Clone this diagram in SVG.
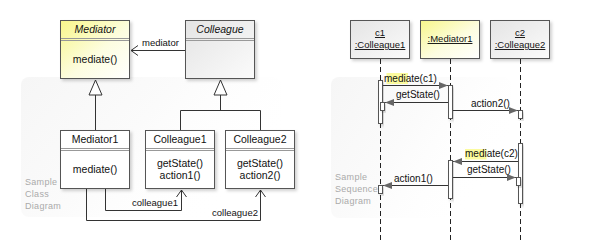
<svg xmlns="http://www.w3.org/2000/svg" width="600" height="240" viewBox="0 0 600 240">
<defs>
  <linearGradient id="gYellow" x1="0" y1="0" x2="1" y2="1">
    <stop offset="0" stop-color="#f8f68a"/>
    <stop offset="0.55" stop-color="#fdfde0"/>
    <stop offset="1" stop-color="#ffffff"/>
  </linearGradient>
  <linearGradient id="gGray" x1="0" y1="0" x2="1" y2="1">
    <stop offset="0" stop-color="#e4e4e4"/>
    <stop offset="1" stop-color="#fbfbfb"/>
  </linearGradient>
  <linearGradient id="gPanel" x1="0" y1="0" x2="1" y2="0.5">
    <stop offset="0" stop-color="#f6f6f6"/>
    <stop offset="0.5" stop-color="#fbfbfb"/>
    <stop offset="1" stop-color="#ffffff" stop-opacity="0"/>
  </linearGradient>
  <filter id="sh" x="-20%" y="-20%" width="150%" height="150%">
    <feDropShadow dx="2" dy="2" stdDeviation="1.5" flood-color="#000" flood-opacity="0.18"/>
  </filter>
  <marker id="filled" markerWidth="10" markerHeight="8" refX="9" refY="4" orient="auto" markerUnits="userSpaceOnUse">
    <path d="M0,0.5 L9,4 L0,7.5 Z" fill="#666"/>
  </marker>
  <marker id="open" markerWidth="10" markerHeight="12" refX="7" refY="6" orient="auto" markerUnits="userSpaceOnUse">
    <path d="M0,1 L7,6 L0,11" fill="none" stroke="#333" stroke-width="1"/>
  </marker>
</defs>
<style>
  .box { stroke: #555; stroke-width: 1; fill: #fff; }
  .sep { stroke: #999; stroke-width: 1; }
  .t { font-family: "Liberation Sans", Arial, sans-serif; font-size: 10.5px; fill: #111; text-anchor: middle; }
  .ti { font-style: italic; }
  .lbl { font-family: "Liberation Sans", Arial, sans-serif; font-size: 9.5px; fill: #111; }
  .msg { font-family: "Liberation Sans", Arial, sans-serif; font-size: 10px; fill: #111; }
  .st { font-family: "Liberation Sans", Arial, sans-serif; font-size: 9.5px; fill: #111; text-anchor: middle; text-decoration: underline; }
  .note { font-family: "Liberation Sans", Arial, sans-serif; font-size: 9px; fill: #aaa; letter-spacing: 0.3px; }
  .ln { stroke: #333; stroke-width: 1; fill: none; }
  .life { stroke: #222; stroke-width: 1; stroke-dasharray: 5,3; fill: none; }
  .act { stroke: #555; stroke-width: 1; fill: #fff; }
  .gen { stroke: #333; stroke-width: 1; fill: #fff; }
  .hl { fill: #fbfb9e; }
</style>

<!-- panels -->
<rect x="21" y="77" width="260" height="140" rx="8" fill="url(#gPanel)"/>
<rect x="331" y="77" width="180" height="141" rx="8" fill="url(#gPanel)"/>

<!-- Class diagram -->
<g id="connectors-class">
  <line class="ln" x1="185" y1="50.5" x2="131" y2="50.5" marker-end="url(#open)"/>
  <text class="lbl" x="142" y="46">mediator</text>
  <line class="ln" x1="95.5" y1="95" x2="95.5" y2="130"/>
  <polygon class="gen" points="95.5,80 89,95 102,95"/>
  <polyline class="ln" points="220.5,95 220.5,110.5"/>
  <polyline class="ln" points="180.5,130 180.5,110.5 260.5,110.5 260.5,130"/>
  <polygon class="gen" points="220.5,80 214,95 227,95"/>
  <polyline class="ln" points="105.5,189 105.5,210.5 181.5,210.5 181.5,190" marker-end="url(#open)"/>
  <text class="lbl" x="132" y="206">colleague1</text>
  <polyline class="ln" points="86.5,189 86.5,220.5 260.5,220.5 260.5,190" marker-end="url(#open)"/>
  <text class="lbl" x="212" y="216">colleague2</text>
</g>

<g id="Mediator">
  <rect class="box" x="60.5" y="20.5" width="69" height="58" style="fill:url(#gYellow)" filter="url(#sh)"/>
  <line class="sep" x1="61" y1="38.5" x2="129" y2="38.5"/>
  <line class="sep" x1="61" y1="40.5" x2="129" y2="40.5"/>
  <text class="t ti" x="95" y="33">Mediator</text>
  <text class="t" x="95" y="63">mediate()</text>
</g>
<g id="Colleague">
  <rect class="box" x="185.5" y="20.5" width="69" height="58" style="fill:url(#gGray)" filter="url(#sh)"/>
  <line class="sep" x1="186" y1="38.5" x2="254" y2="38.5"/>
  <line class="sep" x1="186" y1="40.5" x2="254" y2="40.5"/>
  <text class="t ti" x="220" y="33">Colleague</text>
</g>
<g id="Mediator1">
  <rect class="box" x="60.5" y="130.5" width="69" height="58" filter="url(#sh)"/>
  <line class="sep" x1="61" y1="148.5" x2="129" y2="148.5"/>
  <line class="sep" x1="61" y1="150.5" x2="129" y2="150.5"/>
  <text class="t" x="95" y="143">Mediator1</text>
  <text class="t" x="95" y="173">mediate()</text>
</g>
<g id="Colleague1">
  <rect class="box" x="145.5" y="130.5" width="69" height="58" filter="url(#sh)"/>
  <line class="sep" x1="146" y1="148.5" x2="214" y2="148.5"/>
  <line class="sep" x1="146" y1="150.5" x2="214" y2="150.5"/>
  <text class="t" x="180" y="143">Colleague1</text>
  <text class="t" x="180" y="167">getState()</text>
  <text class="t" x="180" y="179">action1()</text>
</g>
<g id="Colleague2">
  <rect class="box" x="225.5" y="130.5" width="69" height="58" filter="url(#sh)"/>
  <line class="sep" x1="226" y1="148.5" x2="294" y2="148.5"/>
  <line class="sep" x1="226" y1="150.5" x2="294" y2="150.5"/>
  <text class="t" x="260" y="143">Colleague2</text>
  <text class="t" x="260" y="167">getState()</text>
  <text class="t" x="260" y="179">action2()</text>
</g>
<g id="note-class">
  <text class="note" x="25" y="185">Sample</text>
  <text class="note" x="25" y="197">Class</text>
  <text class="note" x="25" y="209">Diagram</text>
</g>

<!-- Sequence diagram -->
<g id="c1">
  <rect class="box" x="350.5" y="20.5" width="59" height="38" style="fill:url(#gGray)" filter="url(#sh)"/>
  <text class="st" x="380" y="36">c1</text>
  <text class="st" x="380" y="48">:Colleague1</text>
</g>
<g id="Mediator1-obj">
  <rect class="box" x="420.5" y="20.5" width="59" height="38" style="fill:url(#gYellow)" filter="url(#sh)"/>
  <text class="st" x="450" y="42">:Mediator1</text>
</g>
<g id="c2">
  <rect class="box" x="490.5" y="20.5" width="59" height="38" style="fill:url(#gGray)" filter="url(#sh)"/>
  <text class="st" x="520" y="36">c2</text>
  <text class="st" x="520" y="48">:Colleague2</text>
</g>

<g id="connectors-seq">
  <line class="life" x1="380.5" y1="59" x2="380.5" y2="240"/>
  <line class="life" x1="450.5" y1="59" x2="450.5" y2="240"/>
  <line class="life" x1="520.5" y1="59" x2="520.5" y2="240"/>

  <rect class="act" x="378.5" y="80.5" width="4" height="43" filter="url(#sh)"/>
  <rect class="act" x="380.5" y="102.5" width="4" height="8" filter="url(#sh)"/>
  <rect class="act" x="448.5" y="85.5" width="4" height="33" filter="url(#sh)"/>
  <rect class="act" x="518.5" y="110.5" width="4" height="8" filter="url(#sh)"/>

  <rect class="act" x="518.5" y="143.5" width="4" height="60" filter="url(#sh)"/>
  <rect class="act" x="516.5" y="177.5" width="4" height="8" filter="url(#sh)"/>
  <rect class="act" x="448.5" y="160.5" width="4" height="38" filter="url(#sh)"/>
  <rect class="act" x="378.5" y="185.5" width="4" height="8" filter="url(#sh)"/>

  <rect class="hl" x="386.5" y="73" width="21.5" height="11"/>
  <line class="ln" x1="383" y1="85.5" x2="448" y2="85.5" marker-end="url(#filled)"/>
  <text class="msg" x="384" y="82">mediate(c1)</text>

  <line class="ln" x1="448" y1="102.5" x2="385" y2="102.5" marker-end="url(#filled)"/>
  <text class="msg" x="396" y="98">getState()</text>

  <line class="ln" x1="453" y1="110.5" x2="518" y2="110.5" marker-end="url(#filled)"/>
  <text class="msg" x="471" y="107">action2()</text>

  <rect class="hl" x="465" y="149" width="21.5" height="10.5"/>
  <line class="ln" x1="518" y1="161.5" x2="453" y2="161.5" marker-end="url(#filled)"/>
  <text class="msg" x="465" y="157">mediate(c2)</text>

  <line class="ln" x1="453" y1="177.5" x2="516" y2="177.5" marker-end="url(#filled)"/>
  <text class="msg" x="467" y="173">getState()</text>

  <line class="ln" x1="448" y1="185.5" x2="383" y2="185.5" marker-end="url(#filled)"/>
  <text class="msg" x="394" y="182">action1()</text>
</g>
<g id="note-seq">
  <text class="note" x="335" y="180">Sample</text>
  <text class="note" x="335" y="192">Sequence</text>
  <text class="note" x="335" y="204">Diagram</text>
</g>
</svg>
